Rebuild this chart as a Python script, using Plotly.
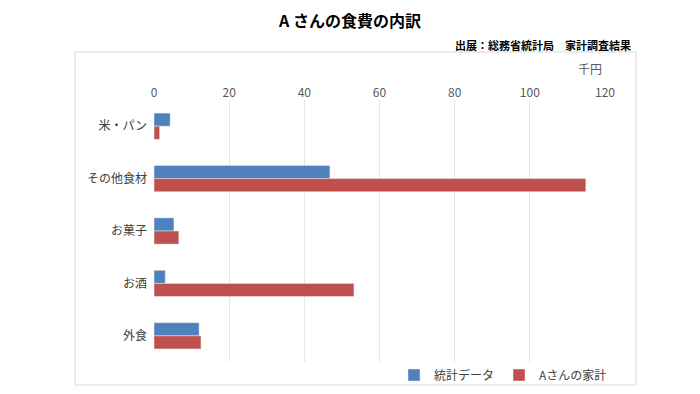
import plotly.graph_objects as go

categories = ["米・パン", "その他食材", "お菓子", "お酒", "外食"]
stat_values = [4.3, 46.8, 5.3, 3.0, 12.0]
a_values = [1.5, 114.9, 6.6, 53.2, 12.5]
series_names = ["統計データ", "Aさんの家計"]
x_ticks = [0, 20, 40, 60, 80, 100, 120]

FONT = "Noto Sans CJK JP"
OFF = 8  # default body margin of the page
W, H = 684, 378
# plot area in screen pixels
L, R, T, B = 154, 605, 100, 362

def px(x):
    return (x - L) / (R - L)

def py(y):
    return (B - y) / (B - T)

def cy(y):
    return 1 - (y - OFF) / H

fig = go.Figure()
fig.add_trace(go.Bar(y=categories, x=stat_values, orientation="h", name=series_names[0],
                     marker=dict(color="#4F81BD")))
fig.add_trace(go.Bar(y=categories, x=a_values, orientation="h", name=series_names[1],
                     marker=dict(color="#C0504D")))

fig.update_layout(
    width=W, height=H,
    margin=dict(l=L - OFF, r=W - (R - OFF), t=T - OFF, b=H - (B - OFF), autoexpand=False),
    paper_bgcolor="white", plot_bgcolor="white",
    barmode="group", bargap=0.5, bargroupgap=0,
    font=dict(family=FONT, color="#595959", size=12),
    title=dict(text="<b>A さんの食費の内訳</b>", x=0.5, xanchor="center", yref="container",
               y=cy(21), yanchor="middle", font=dict(family=FONT, size=16, color="#000000")),
    xaxis=dict(side="top", range=[0, 120], tickvals=x_ticks, showgrid=True, gridcolor="#E6E6E6",
               gridwidth=1, zeroline=False, showline=False, ticks="", tickfont=dict(size=12, color="#595959")),
    yaxis=dict(autorange="reversed", showgrid=False, zeroline=False, showline=False, ticks="",
               ticklabelstandoff=6, tickfont=dict(size=12, color="#404040")),
    legend=dict(orientation="h", x=px(612), xanchor="right", yref="container", y=cy(375),
                yanchor="middle", font=dict(size=12, color="#404040"), bgcolor="rgba(0,0,0,0)",
                itemwidth=30, traceorder="normal"),
    showlegend=True,
)

fig.add_annotation(text="<b>出展：総務省統計局　家計調査結果</b>", xref="paper", yref="paper",
                   x=px(633), y=py(45), xanchor="right", yanchor="middle", showarrow=False,
                   font=dict(family=FONT, size=11, color="#000000"))
fig.add_annotation(text="千円", xref="paper", yref="paper", x=px(590), y=py(68),
                   xanchor="center", yanchor="middle", showarrow=False,
                   font=dict(family=FONT, size=12, color="#595959"))
fig.add_shape(type="rect", xref="paper", yref="paper", x0=px(75), x1=px(636), y0=py(385), y1=py(52),
              line=dict(color="#D9D9D9", width=1), fillcolor="rgba(0,0,0,0)", layer="below")

fig.write_html("out.html")
